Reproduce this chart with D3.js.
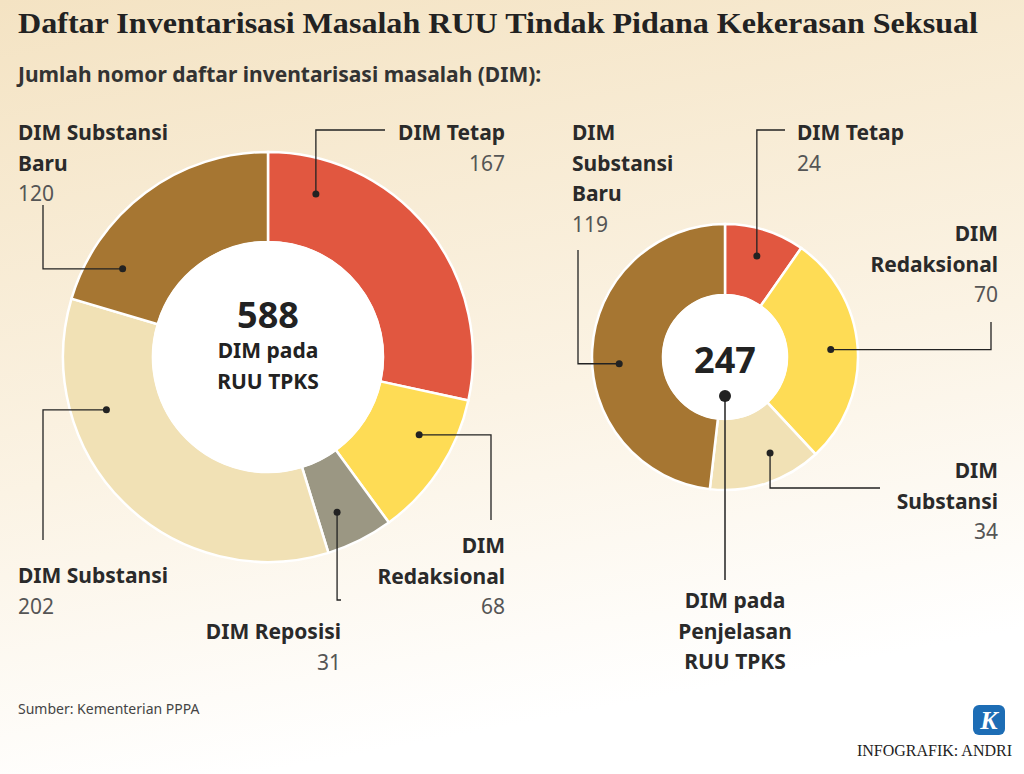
<!DOCTYPE html><html><head><meta charset="utf-8">
<script src="https://cdn.jsdelivr.net/npm/d3@7"></script>
<style>body{margin:0}svg{display:block}</style></head><body><svg id="c" width="1024" height="774"></svg>
<script>
const leftCats=["DIM Tetap","DIM Redaksional","DIM Reposisi","DIM Substansi","DIM Substansi Baru"];
const leftVals=[167,68,31,202,120];
const rightCats=["DIM Tetap","DIM Redaksional","DIM Substansi","DIM Substansi Baru"];
const rightVals=[24,70,34,119];
const colorOf={"DIM Tetap":"#e15740","DIM Redaksional":"#fedc55","DIM Reposisi":"#9b9783","DIM Substansi":"#f1e1b5","DIM Substansi Baru":"#a67632"};
const F="Noto Sans, DejaVu Sans, sans-serif";
const svg=d3.select("#c");
const defs=svg.append("defs");
const g=defs.append("linearGradient").attr("id","bg").attr("x1",0).attr("y1",0).attr("x2",0.25).attr("y2",1);
g.append("stop").attr("offset","0").attr("stop-color","#f4e3c3");
g.append("stop").attr("offset","0.6").attr("stop-color","#fbf3e4");
g.append("stop").attr("offset","1").attr("stop-color","#ffffff");
svg.append("rect").attr("width",1024).attr("height",774).attr("fill","url(#bg)");
svg.append("text").attr("x",18).attr("y",33).attr("font-family","Liberation Serif, DejaVu Serif, serif").attr("font-weight","bold").attr("font-size",28.5).attr("textLength",960).attr("lengthAdjust","spacingAndGlyphs").attr("fill","#222").text("Daftar Inventarisasi Masalah RUU Tindak Pidana Kekerasan Seksual");
svg.append("text").attr("x",18).attr("y",82).attr("font-family",F).attr("font-weight","bold").attr("font-size",21).attr("fill","#333").text("Jumlah nomor daftar inventarisasi masalah (DIM):");

const leftLayout={
 "DIM Tetap":{t:0.16,mode:"v",ex:385,ey:130,tx:505,ty:140,anchor:"end",lines:["DIM Tetap"]},
 "DIM Redaksional":{t:0.36,mode:"h",ex:491,ey:520,tx:505,ty:553,anchor:"end",lines:["DIM","Redaksional"]},
 "DIM Reposisi":{t:0.64,mode:"v",ex:341,ey:600,tx:341,ty:639,anchor:"end",lines:["DIM Reposisi"]},
 "DIM Substansi":{t:0.72,mode:"h",ex:43,ey:540,tx:18,ty:583,anchor:"start",lines:["DIM Substansi"]},
 "DIM Substansi Baru":{t:0.2,mode:"h",ex:43,ey:205,tx:18,ty:140,anchor:"start",lines:["DIM Substansi","Baru"]}
};
const rightLayout={
 "DIM Tetap":{t:0.5,mode:"v",ex:785,ey:130,tx:797,ty:140,anchor:"start",lines:["DIM Tetap"]},
 "DIM Redaksional":{t:0.5,mode:"h",ex:991,ey:322,tx:998,ty:241,anchor:"end",lines:["DIM","Redaksional"]},
 "DIM Substansi":{t:0.36,mode:"v",ex:880,ey:488,tx:998,ty:478,anchor:"end",lines:["DIM","Substansi"]},
 "DIM Substansi Baru":{t:0.46,mode:"h",ex:578,ey:250,tx:572,ty:140,anchor:"start",lines:["DIM","Substansi","Baru"]}
};
function donut(cats,vals,cx,cy,r0,r1,rd,layout){
  const data=cats.map((c,i)=>({c,v:vals[i]}));
  const pie=d3.pie().sort(null).value(d=>d.v);
  const arc=d3.arc().innerRadius(r0).outerRadius(r1);
  const arcs=pie(data);
  const G=svg.append("g").attr("transform",`translate(${cx},${cy})`);
  G.selectAll("path").data(arcs).join("path").attr("d",arc).attr("fill",d=>colorOf[d.data.c]).attr("stroke","#fff").attr("stroke-width",2.5);
  G.append("circle").attr("r",r0+1).attr("fill","#fff");
  arcs.forEach(a=>{
    const L=layout[a.data.c];
    const ang=a.startAngle+L.t*(a.endAngle-a.startAngle);
    const px=cx+rd*Math.sin(ang), py=cy-rd*Math.cos(ang);
    const pts=L.mode==="v"?[[px,py],[px,L.ey],[L.ex,L.ey]]:[[px,py],[L.ex,py],[L.ex,L.ey]];
    svg.append("path").attr("d",d3.line()(pts)).attr("fill","none").attr("stroke","#222").attr("stroke-width",1.3);
    svg.append("circle").attr("cx",px).attr("cy",py).attr("r",3.5).attr("fill","#222");
    const t=svg.append("text").attr("x",L.tx).attr("y",L.ty).attr("text-anchor",L.anchor).attr("font-family",F).attr("font-size",21);
    L.lines.forEach((s,i)=>t.append("tspan").attr("x",L.tx).attr("dy",i?30.5:0).attr("font-weight","bold").attr("fill","#2a2a2a").text(s));
    t.append("tspan").attr("x",L.tx).attr("dy",30.5).attr("fill","#555").text(a.data.v);
  });
  return G;
}
donut(leftCats,leftVals,268,357,115,205,170,leftLayout);
const total=d3.sum(leftVals);
svg.append("text").attr("x",268).attr("y",328).attr("text-anchor","middle").attr("font-family",F).attr("font-weight","bold").attr("font-size",36).attr("fill","#222").text(total);
svg.append("text").attr("x",268).attr("y",358).attr("text-anchor","middle").attr("font-family",F).attr("font-weight","bold").attr("font-size",21).attr("fill","#222").text("DIM pada");
svg.append("text").attr("x",268).attr("y",389).attr("text-anchor","middle").attr("font-family",F).attr("font-weight","bold").attr("font-size",21).attr("fill","#222").text("RUU TPKS");

donut(rightCats,rightVals,725,357,62,133,106,rightLayout);
svg.append("text").attr("x",725).attr("y",373).attr("text-anchor","middle").attr("font-family",F).attr("font-weight","bold").attr("font-size",36).attr("fill","#222").text(d3.sum(rightVals));
svg.append("line").attr("x1",725).attr("y1",396).attr("x2",725).attr("y2",580).attr("stroke","#222").attr("stroke-width",1.5);
svg.append("circle").attr("cx",725).attr("cy",396).attr("r",6).attr("fill","#222");
["DIM pada","Penjelasan","RUU TPKS"].forEach((s,i)=>svg.append("text").attr("x",735).attr("y",608+i*30.5).attr("text-anchor","middle").attr("font-family",F).attr("font-weight","bold").attr("font-size",21).attr("fill","#2a2a2a").text(s));

svg.append("text").attr("x",18).attr("y",714).attr("font-family",F).attr("font-size",14).attr("fill","#444").text("Sumber: Kementerian PPPA");
svg.append("rect").attr("x",973).attr("y",705).attr("width",32).attr("height",30).attr("rx",6).attr("fill","#1d6db5");
svg.append("text").attr("x",989).attr("y",729).attr("text-anchor","middle").attr("font-family","Liberation Serif, serif").attr("font-style","italic").attr("font-weight","bold").attr("font-size",26).attr("fill","#fff").text("K");
svg.append("text").attr("x",1012).attr("y",756).attr("text-anchor","end").attr("font-family","Liberation Serif, serif").attr("font-size",16).attr("fill","#222").text("INFOGRAFIK: ANDRI");
</script></body></html>
